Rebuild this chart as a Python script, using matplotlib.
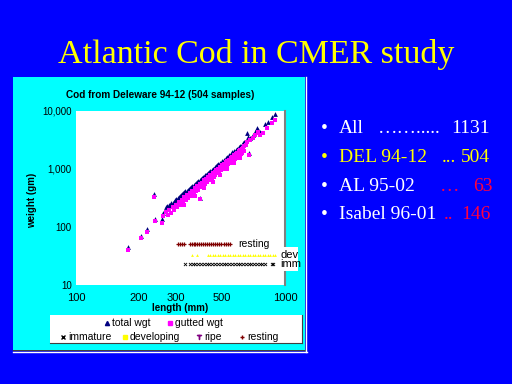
import matplotlib

matplotlib.use("Agg")
import matplotlib.pyplot as plt  # noqa: E402
from matplotlib.lines import Line2D  # noqa: E402
from matplotlib.patches import Rectangle  # noqa: E402

W, H = 512, 384

# total weight (gm) vs length (mm)
total_len = [178, 204, 219, 236, 239, 257, 262, 270, 274, 278, 282, 286, 290, 294,
             298, 302, 306, 310, 314, 318, 322, 326, 330, 334, 338, 342, 346, 350,
             355, 360, 365, 370, 375, 380, 385, 390, 395, 400, 405, 410, 415, 420,
             425, 430, 435, 440, 445, 450, 455, 460, 465, 470, 475, 480, 490, 500,
             510, 520, 530, 540, 550, 560, 570, 580, 590, 600, 610, 620, 630, 640,
             656, 668, 673, 680, 700, 732, 760, 802, 830, 862, 894, 392, 720, 745]
total_wgt = [46, 70, 92, 371, 137, 135, 172, 225, 232, 240, 236, 258, 262, 275,
             290, 300, 318, 325, 340, 352, 365, 380, 395, 410, 418, 440, 455, 470,
             490, 510, 525, 555, 570, 600, 615, 650, 660, 700, 720, 740, 775, 800,
             830, 850, 890, 930, 950, 990, 1020, 1060, 1090, 1130, 1170, 1210, 1280, 1370,
             1450, 1540, 1630, 1730, 1820, 1930, 2020, 2150, 2240, 2380, 2480, 2620, 2760, 2900,
             4130, 3605, 1910, 3480, 3800, 5035, 4300, 5970, 6545, 7785, 8870, 316, 4400, 4700]

# gutted weight (gm) vs length (mm)
gutted_len = [178, 204, 219, 236, 239, 257, 262, 392, 672, 680, 700, 720, 745, 760,
              785, 821, 862, 894, 740, 660,
              # upper part of the band
              270, 280, 290, 300, 310, 320, 330, 340, 350, 360, 370, 380, 390, 400,
              410, 420, 430, 440, 450, 460, 470, 480, 490, 500, 510, 520, 530, 540,
              550, 560, 570, 580, 590, 600, 610, 620, 630, 640, 650,
              # lower part of the band
              275, 285, 295, 305, 315, 325, 335, 345, 355, 365, 375, 385, 395, 405,
              415, 425, 435, 445, 455, 465, 475, 485, 495, 505, 515, 525, 535, 545,
              555, 565, 575, 585, 595, 605, 615, 625, 635,
              # stragglers below the band
              330, 370, 410, 450, 490, 530, 570, 610]
gutted_wgt = [40, 65, 82, 324, 128, 117, 155, 300, 1740, 3200, 3400, 3900, 4395, 3855,
              4130, 5035, 6280, 7000, 4150, 2900,
              180, 196, 222, 243, 272, 296, 330, 355, 393, 423, 466, 500, 545, 584,
              636, 676, 735, 780, 845, 895, 960, 1018, 1092, 1150, 1232, 1298, 1385, 1455,
              1550, 1625, 1730, 1810, 1925, 2005, 2120, 2215, 2340, 2445, 2580,
              160, 176, 198, 217, 241, 262, 292, 315, 348, 375, 411, 440, 480, 514,
              558, 595, 645, 684, 740, 782, 843, 888, 955, 1005, 1078, 1128, 1210, 1265,
              1352, 1412, 1505, 1572, 1672, 1740, 1850, 1920, 2040,
              240, 336, 463, 608, 798, 1000, 1262, 1536]

# maturity stage rows (lengths in mm), drawn at a fixed weight level each
resting_len = [308, 314, 320, 329, 351, 358, 365, 372, 380, 388, 396, 405, 414,
               423, 432, 442, 452, 462, 473, 484, 496, 508, 520, 533, 546]
dev_len = [359, 379, 428, 440, 452, 465, 478, 491, 505, 519, 533, 548, 563, 579,
           595, 612, 629, 647, 665, 683, 702, 722, 742, 763, 784, 806, 829, 852,
           876, 896]
imm_len = [332, 351, 362, 373, 385, 397, 409, 422, 435, 449, 463, 477, 492, 508,
           524, 540, 557, 575, 593, 611, 630, 650, 670, 691, 713, 735, 758, 780,
           803, 865, 880]
stage_level = {"resting": 51.5, "dev": 33.3, "imm": 23.0}

x_ticks = [100, 200, 300, 500, 1000]
y_ticks = [10, 100, 1000, 10000]
y_tick_labels = ["10", "100", "1,000", "10,000"]

bullet_names = ["All", "DEL 94-12", "AL 95-02", "Isabel 96-01"]
bullet_leaders = ["…….....", "...", "…", ".."]
bullet_counts = [1131, 504, 63, 146]


def fx(px):
    return px / W


def fy(py):
    return 1 - py / H


fig = plt.figure(figsize=(W / 100, H / 100), dpi=100, facecolor="#0000ff")

# slide title
fig.text(fx(256), fy(63), "Atlantic Cod in CMER study", color="#ffff00",
         family="Liberation Serif", fontsize=24.5, ha="center", va="baseline")

# cyan chart panel
fig.patches.append(Rectangle((fx(13), fy(350)), (305 - 13) / W, (350 - 77) / H,
                             transform=fig.transFigure, facecolor="#00ffff",
                             edgecolor="none", zorder=-1))
for xs, ys, c in [((304, 304), (77, 350), "#404040"), ((13, 305), (349.5, 349.5), "#404040"),
                  ((306, 306), (77, 352), "white"), ((13, 307), (351.5, 351.5), "white")]:
    fig.add_artist(Line2D([fx(v) for v in xs], [fy(v) for v in ys], color=c,
                          lw=1, transform=fig.transFigure, zorder=-1))

fig.text(fx(160), fy(95), "Cod from Deleware 94-12 (504 samples)", fontsize=7.2,
         fontweight="bold", ha="center", va="center", family="Liberation Sans")

ax = fig.add_axes([fx(76), fy(285), 209 / W, 174 / H])
ax.set_facecolor("white")
ax.set_xscale("log")
ax.set_yscale("log")
ax.set_xlim(100, 1000)
ax.set_ylim(10, 10000)
ax.scatter(total_len, total_wgt, marker="^", s=12, color="#000080", linewidths=0, zorder=3)
ax.scatter(gutted_len, gutted_wgt, marker="s", s=10, color="#ff00ff", linewidths=0, zorder=4)
ax.scatter(resting_len, [stage_level["resting"]] * len(resting_len), marker="+", s=8,
           color="#800000", linewidths=0.9, zorder=3)
ax.scatter(dev_len, [stage_level["dev"]] * len(dev_len), marker="^", s=4,
           color="#ffff00", linewidths=0, zorder=3)
ax.scatter(imm_len, [stage_level["imm"]] * len(imm_len), marker="x", s=5,
           color="black", linewidths=0.6, zorder=3)
ax.text(596, stage_level["resting"], "resting", fontsize=7.5, va="center",
        family="Liberation Sans", zorder=5)
ax.add_patch(Rectangle((fx(277), fy(271)), 21 / W, 24 / H, transform=fig.transFigure,
                       facecolor="white", edgecolor="none", zorder=5, clip_on=False))
for name in ["dev", "imm"]:
    ax.text(950, stage_level[name], name, fontsize=8, va="center", clip_on=False,
            family="Liberation Sans", zorder=6)

ax.minorticks_off()
ax.set_xticks(x_ticks)
ax.set_xticklabels([str(v) for v in x_ticks])
ax.set_yticks(y_ticks)
ax.set_yticklabels(y_tick_labels)
ax.tick_params(axis="x", length=0, pad=6, labelsize=8)
ax.tick_params(axis="y", length=0, pad=3, labelsize=7)
for lab in ax.get_xticklabels() + ax.get_yticklabels():
    lab.set_family("Liberation Sans")
for side in ["top", "left", "bottom"]:
    ax.spines[side].set_visible(False)
ax.spines["right"].set_color("#808080")
ax.spines["right"].set_linewidth(1.5)

fig.text(fx(180), fy(308), "length (mm)", fontsize=7, fontweight="bold",
         ha="center", va="center", family="Liberation Sans")
fig.text(fx(32), fy(200), "weight (gm)", fontsize=7, fontweight="bold", rotation=90,
         ha="center", va="center", family="Liberation Sans")

# legend box drawn in pixel coordinates
lax = fig.add_axes([fx(50), fy(343), 252 / W, 28 / H])
lax.set_xlim(50, 302)
lax.set_ylim(343, 315)
lax.set_xticks([])
lax.set_yticks([])
lax.set_facecolor("white")
for side in ["top", "left"]:
    lax.spines[side].set_visible(False)
for side in ["right", "bottom"]:
    lax.spines[side].set_color("#404040")
legend_items = [
    (107, 323, "^", "#000080", "total wgt"),
    (170, 323, "s", "#ff00ff", "gutted wgt"),
    (63, 337, "x", "black", "immature"),
    (125, 337, "s", "#ffff00", "developing"),
    (199, 337, "$\\mathsf{T}$", "#800080", "ripe"),
    (242, 337, "+", "#800000", "resting"),
]
for x, y, m, c, lab in legend_items:
    lax.plot([x], [y], marker=m, color=c, markersize=3, linestyle="none")
    lax.text(x + 5, y, lab, fontsize=7.5, va="center", family="Liberation Sans")

# right-hand bullet list
rows_y = [133, 162, 191, 219]
leader_x = [378, 442, 440, 444]
count_x = [451, 461, 473, 461]
for i in range(len(bullet_names)):
    col = "#ffff00" if i == 1 else "white"
    tail_col = "#ff0040" if i >= 2 else col
    y = fy(rows_y[i])
    kw = dict(fontsize=14, family="Liberation Serif", va="baseline")
    fig.text(fx(324), y, "•", color=col, ha="center", **kw)
    fig.text(fx(339), y, bullet_names[i], color=col, **kw)
    fig.text(fx(leader_x[i]), y, bullet_leaders[i], color=tail_col, **kw)
    fig.text(fx(count_x[i]), y, str(bullet_counts[i]), color=tail_col, **kw)

fig.savefig("out.png", dpi=100, facecolor=fig.get_facecolor())
